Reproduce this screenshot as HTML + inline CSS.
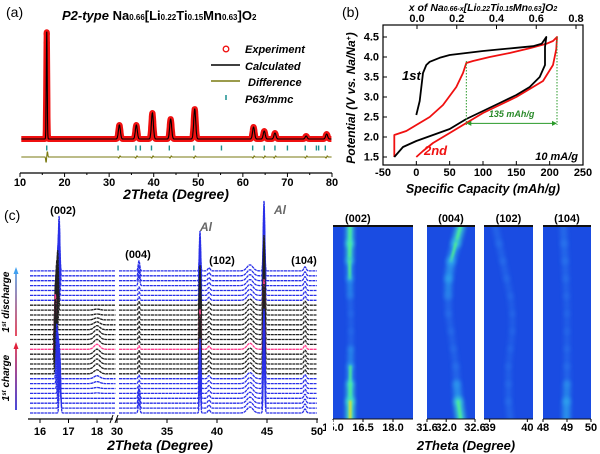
<!DOCTYPE html>
<html><head><meta charset="utf-8"><style>
body{margin:0;background:#fff;}
svg{display:block;font-family:"Liberation Sans",sans-serif;}
.t{font-weight:bold;font-size:11px;}
.ti{font-weight:bold;font-style:italic;}
</style></head><body>
<svg id="fig" width="600" height="454" viewBox="0 0 600 454" xmlns="http://www.w3.org/2000/svg">
<defs>
<filter id="blur2" filterUnits="userSpaceOnUse" x="300" y="200" width="300" height="240"><feGaussianBlur stdDeviation="2.2"/></filter>
<filter id="blur1" filterUnits="userSpaceOnUse" x="300" y="200" width="300" height="240"><feGaussianBlur stdDeviation="1"/></filter>
<linearGradient id="arrUp1" gradientUnits="userSpaceOnUse" x1="0" y1="410" x2="0" y2="342"><stop offset="0" stop-color="#1a1ad0"/><stop offset="1" stop-color="#e0203a"/></linearGradient>
<linearGradient id="arrUp2" gradientUnits="userSpaceOnUse" x1="0" y1="336" x2="0" y2="267"><stop offset="0" stop-color="#e0203a"/><stop offset="1" stop-color="#40a0f0"/></linearGradient>
</defs>
<g id="pa"></g>
<g id="pb"></g>
<g id="pc"></g>
<g id="pd"></g>
</svg>
<script>
// ---------- Panel (a) data ----------
const aPeakPos = [16.0, 32.3, 36.1, 39.7, 43.8, 49.2, 62.4, 64.8, 67.2, 74.2, 78.8];
const aPeakInt = [109, 14, 14, 26, 20, 30, 12, 8, 6, 3, 5];
const aBragg = [16, 32, 36, 37, 39.5, 43.5, 49, 55.2, 62.2, 64.8, 67.2, 70, 74, 76.5, 77, 78.5];
const aTicks = [10, 20, 30, 40, 50, 60, 70, 80];
// ---------- Panel (b) data ----------
const cap1 = [0,5,10,15,20,35,50,75,100,125,150,175,188,195,193,193,185,170,150,125,100,75,50,25,0,-20,-33];
const v1   = [2.55,2.9,3.6,3.8,3.88,3.98,4.05,4.1,4.15,4.19,4.23,4.27,4.33,4.5,4.25,3.8,3.5,3.25,3.05,2.85,2.65,2.45,2.2,2.05,1.9,1.75,1.5];
const cap2 = [-33,-33,-15,0,20,40,60,70,75,85,110,140,170,195,205,211,210,205,190,170,150,125,100,75,50,25,10,0];
const v2   = [1.5,2.05,2.15,2.3,2.5,2.8,3.25,3.6,3.85,3.9,4.0,4.1,4.22,4.33,4.4,4.5,4.2,3.8,3.4,3.2,3.0,2.8,2.6,2.35,2.1,1.85,1.65,1.5];
const bXTicks = [-50,0,50,100,150,200,250];
const bYTicks = [1.5,2.0,2.5,3.0,3.5,4.0,4.5];
const bTopTicks = [0.0,0.2,0.4,0.6,0.8];
// ---------- Panel (c) data ----------
const cPeakBase = [16.62, 32.2, 38.3, 39.2, 43.3, 44.7, 48.8, 18.0];
const cPeakH    = [55, 10, 40, 3, 6, 70, 4, 3];
const cPeakSig  = [0.025, 0.08, 0.06, 0.12, 0.3, 0.07, 0.12, 0.1];
const c002Shift = [0.08,0.07,0.06,0.05,0.03,0.01,-0.01,-0.03,-0.05,-0.06,-0.07,-0.08,-0.08,-0.08,-0.08,-0.08,-0.07,-0.06,-0.05,-0.04,-0.03,-0.01,0.0,0.01,0.02,0.03,0.04,0.05,0.05,0.05];
const cHumpH18  = [0,0,0,0,0.5,1,2,3,4,5,5,5,5,5,5,5,5,4,3,2,1,1,0,0,0,0,0,0,0,0];
const cTicks1 = [16, 17, 18];
const cTicks2 = [30, 35, 40, 45, 50];
// ---------- heatmap data (peak centers per row, top to bottom) ----------
const hm1Pos = [15.85,15.84,15.83,15.84,15.86,15.89,15.9,15.89,15.87,15.86,15.86,15.86];
const hm1Int = [0.8,0.75,0.7,0.5,0.35,0.25,0.25,0.35,0.5,0.7,0.85,1.0];
const hm2Pos = [32.3,32.2,32.1,32.05,32.04,32.05,32.1,32.15,32.2,32.22,32.25,32.3];
const hm2Int = [0.7,0.6,0.55,0.45,0.3,0.2,0.15,0.15,0.2,0.4,0.6,0.8];
const hm3Pos = [39.15,39.25,39.35,39.45,39.55,39.6,39.6,39.55,39.5,39.5,39.5,39.55];
const hm3Int = [0.25,0.2,0.2,0.15,0.1,0.08,0.08,0.08,0.1,0.15,0.2,0.25];
const hm4Pos = [48.85,48.88,48.92,48.95,48.98,49.0,49.0,49.0,49.0,49.0,48.98,48.97];
const hm4Int = [0.35,0.35,0.3,0.2,0.15,0.1,0.1,0.15,0.2,0.3,0.45,0.6];

const NS="http://www.w3.org/2000/svg";
function mk(parent,tag,attrs,text){const e=document.createElementNS(NS,tag);for(const k in attrs)e.setAttribute(k,attrs[k]);if(text!==undefined)e.textContent=text;parent.appendChild(e);return e;}
function gauss(x,c,s){return Math.exp(-((x-c)*(x-c))/(2*s*s));}

// ===== Panel a =====
const pa=document.getElementById('pa');
const xA=t=>20+(t-10)*312/70, yA=I=>139-I;
function calc(t){let s=0;for(let k=0;k<aPeakPos.length;k++)s+=aPeakInt[k]*gauss(t,aPeakPos[k],k==0?0.1:0.22);return s;}
let dCalc='';for(let t=10.3;t<=79.9;t+=0.04){dCalc+=(dCalc?'L':'M')+xA(t).toFixed(1)+','+yA(calc(t)).toFixed(1);}
let e=mk(pa,'path',{d:dCalc,fill:'none',stroke:'#f01010','stroke-width':6,'stroke-linejoin':'round'});

for(let k=0;k<aPeakPos.length;k++){const top=aPeakInt[k];for(let h=6;h<top;h+=9){const c=mk(pa,'circle',{cx:xA(aPeakPos[k]),cy:yA(h),r:2.6,fill:'none',stroke:'#f01010','stroke-width':1.1});}}
e=mk(pa,'path',{d:dCalc,fill:'none',stroke:'#000','stroke-width':1.1});

aBragg.forEach(t=>{const b=mk(pa,'line',{x1:xA(t),x2:xA(t),y1:145.5,y2:150.5,stroke:'#1a9090','stroke-width':1.4});});
let dDiff='';for(let t=10.3;t<=79.9;t+=0.1){let v=0;for(let k=0;k<aPeakPos.length;k++)v+=(k==0?6:1.2)*(gauss(t,aPeakPos[k]-0.15,0.08)-gauss(t,aPeakPos[k]+0.15,0.08));dDiff+=(dDiff?'L':'M')+xA(t).toFixed(1)+','+(157+v).toFixed(1);}
e=mk(pa,'path',{d:dDiff,fill:'none',stroke:'#7a7a10','stroke-width':1.1});

e=mk(pa,'line',{x1:20,x2:332,y1:173,y2:173,stroke:'#000','stroke-width':1.3});
for(let t=10;t<=80;t+=5){const l=mk(pa,'line',{x1:xA(t),x2:xA(t),y1:173,y2:t%10==0?177:175,stroke:'#000','stroke-width':1});}
aTicks.forEach(t=>{const l=mk(pa,'text',{x:xA(t),y:186,'text-anchor':'middle',class:'t','font-size':'10.5'},String(t));});
e=mk(pa,'text',{x:176,y:199,'text-anchor':'middle',class:'ti','font-size':'14'},'2Theta (Degree)');
e=mk(pa,'text',{x:6,y:17,'font-size':'14'},'(a)');
e=mk(pa,'text',{x:62,y:20,'font-size':'13','font-weight':'bold'});
e.innerHTML='<tspan font-style="italic">P2-type</tspan> Na<tspan font-size="8">0.66</tspan>[Li<tspan font-size="8">0.22</tspan>Ti<tspan font-size="8">0.15</tspan>Mn<tspan font-size="8">0.63</tspan>]O<tspan font-size="8">2</tspan>';
const lg=mk(pa,'g',{});
mk(lg,'circle',{cx:226,cy:49,r:2.8,fill:'none',stroke:'#f01010','stroke-width':1.3});
mk(lg,'text',{x:245,y:53,class:'ti','font-size':'11'},'Experiment');
mk(lg,'line',{x1:211,x2:240,y1:65,y2:65,stroke:'#000','stroke-width':1.5});
mk(lg,'text',{x:245,y:70,class:'ti','font-size':'11'},'Calculated');
mk(lg,'line',{x1:211,x2:240,y1:81,y2:81,stroke:'#7a7a10','stroke-width':1.5});
mk(lg,'text',{x:248,y:86,class:'ti','font-size':'11'},'Difference');
mk(lg,'line',{x1:226,x2:226,y1:95,y2:100,stroke:'#1a9090','stroke-width':1.5});
mk(lg,'text',{x:245,y:103,class:'ti','font-size':'11'},'P63/mmc');

// ===== Panel b =====
const pb=document.getElementById('pb');
const xB=c=>383+(c+50)*200/300, yB=v=>37+(4.5-v)*40, xTop=x=>417+x*198.75;
e=mk(pb,'rect',{x:383,y:25,width:200,height:140,fill:'none',stroke:'#000','stroke-width':1.2});
bXTicks.forEach(c=>{mk(pb,'line',{x1:xB(c),x2:xB(c),y1:165,y2:161,stroke:'#000'});const l=mk(pb,'text',{x:xB(c),y:176,'text-anchor':'middle',class:'t','font-size':'9.5'},String(c));});
bYTicks.forEach(v=>{mk(pb,'line',{x1:383,x2:387,y1:yB(v),y2:yB(v),stroke:'#000'});const l=mk(pb,'text',{x:379,y:yB(v)+3.5,'text-anchor':'end',class:'t','font-size':'9.5'},v.toFixed(1));});
bTopTicks.forEach(x=>{mk(pb,'line',{x1:xTop(x),x2:xTop(x),y1:25,y2:29,stroke:'#000'});const l=mk(pb,'text',{x:xTop(x),y:22,'text-anchor':'middle',class:'t','font-size':'9.5'},x.toFixed(1));});
function pathB(cs,vs){return cs.map((c,i)=>(i?'L':'M')+xB(c).toFixed(1)+','+yB(vs[i]).toFixed(1)).join('');}
e=mk(pb,'path',{d:pathB(cap2,v2),fill:'none',stroke:'#f01010','stroke-width':1.8,'stroke-linejoin':'round'});
e=mk(pb,'path',{d:pathB(cap1,v1),fill:'none',stroke:'#000','stroke-width':1.8,'stroke-linejoin':'round'});
const gb=mk(pb,'g',{stroke:'#2a9a2a','stroke-width':1,'stroke-dasharray':'1.5,1.5',fill:'none'});
mk(gb,'line',{x1:xB(75),x2:xB(75),y1:yB(3.9),y2:yB(2.3)});
mk(gb,'line',{x1:xB(211),x2:xB(211),y1:yB(4.5),y2:yB(2.3)});
mk(pb,'line',{x1:xB(77),x2:xB(209),y1:yB(2.34),y2:yB(2.34),stroke:'#2a9a2a','stroke-width':1});
mk(pb,'path',{d:`M${xB(75)},${yB(2.34)}l5,-2.5v5z M${xB(211)},${yB(2.34)}l-5,-2.5v5z`,fill:'#2a9a2a'});
e=mk(pb,'text',{x:xB(143),y:yB(2.5),'text-anchor':'middle',class:'ti','font-size':'9',fill:'#2a8a2a'},'135 mAh/g');
e=mk(pb,'text',{x:402,y:80,class:'ti','font-size':'13'},'1st');
e=mk(pb,'text',{x:424,y:155,class:'ti','font-size':'13',fill:'#f01010'},'2nd');
e=mk(pb,'text',{x:578,y:160,'text-anchor':'end',class:'ti','font-size':'11'},'10 mA/g');
e=mk(pb,'text',{x:483,y:193,'text-anchor':'middle',class:'ti','font-size':'12.5'},'Specific Capacity (mAh/g)');
e=mk(pb,'text',{x:0,y:0,'text-anchor':'middle',class:'ti','font-size':'12',transform:'translate(355,98) rotate(-90)'});
e.innerHTML='Potential (V vs. Na/Na<tspan font-size="7" dy="-4">+</tspan><tspan dy="4">)</tspan>';
e=mk(pb,'text',{x:483,y:11,'text-anchor':'middle',class:'ti','font-size':'10.5'});
e.innerHTML='x of Na<tspan font-size="7">0.66-x</tspan>[Li<tspan font-size="7">0.22</tspan>Ti<tspan font-size="7">0.15</tspan>Mn<tspan font-size="7">0.63</tspan>]O<tspan font-size="7">2</tspan>';
e=mk(pb,'text',{x:342,y:17,'font-size':'14'},'(b)');

// ===== Panel c stacked =====
const pc=document.getElementById('pc');
const xC=t=>t<25?40+(t-16)*28.5:117+(t-30)*10;
const nTr=c002Shift.length;
function colorOf(i){if(i==13)return '#ff3c8c';if(i<=7||i>=23)return '#2a30e8';return '#222';}
function intensity(t,i){let s=0;for(let k=0;k<cPeakBase.length;k++){let c=cPeakBase[k],h=cPeakH[k];if(k==0)c+=c002Shift[i];if(k==7)h=cHumpH18[i];if(k==1)h=cPeakH[k]*(i<4||i>25?1:0.35);s+=h*gauss(t,c,cPeakSig[k]);}return s;}
for(let i=nTr-1;i>=0;i--){const base=413-i*4.9;let d='';
 for(let t=15.65;t<=18.65;t+=0.005)d+=(d?'L':'M')+xC(t).toFixed(1)+','+(base-intensity(t,i)).toFixed(1);
 d+='M'+xC(30.2).toFixed(1)+','+base;
 for(let t=30.2;t<=50;t+=0.02)d+='L'+xC(t).toFixed(1)+','+(base-intensity(t,i)).toFixed(1);
 const p=mk(pc,'path',{d:d,fill:'none',stroke:colorOf(i),'stroke-width':1.3,'stroke-dasharray':'3,0.6'});
 }
e=mk(pc,'line',{x1:28,x2:113,y1:419,y2:419,stroke:'#000','stroke-width':1.3});
e=mk(pc,'line',{x1:117,x2:318,y1:419,y2:419,stroke:'#000','stroke-width':1.3});
mk(pc,'path',{d:'M110,423l3,-8M115,423l3,-8',stroke:'#000','stroke-width':1});
cTicks1.concat(cTicks2).forEach(t=>{mk(pc,'line',{x1:xC(t),x2:xC(t),y1:419,y2:423,stroke:'#000'});const l=mk(pc,'text',{x:xC(t),y:435,'text-anchor':'middle',class:'t','font-size':'10.5'},String(t));});
e=mk(pc,'text',{x:160,y:450,'text-anchor':'middle',class:'ti','font-size':'14'},'2Theta (Degree)');
e=mk(pc,'text',{x:4,y:220,'font-size':'14'},'(c)');
[['(002)',63,214],['(004)',138,258],['(102)',222,264],['(104)',304,264]].forEach(a=>{const l=mk(pc,'text',{x:a[1],y:a[2],'text-anchor':'middle',class:'t','font-size':'12'},a[0]);});
[['Al',200,231],['Al',274,214]].forEach(a=>{const l=mk(pc,'text',{x:a[1],y:a[2],class:'ti','font-size':'12',fill:'#666'},a[0]);});
e=mk(pc,'rect',{x:15.2,y:349,width:1.6,height:61,fill:'url(#arrUp1)'});
mk(pc,'path',{d:'M16,342l-2.5,7h5z',fill:'#e0203a'});
e=mk(pc,'rect',{x:15.2,y:274,width:1.6,height:62,fill:'url(#arrUp2)'});
mk(pc,'path',{d:'M16,267l-2.5,7h5z',fill:'#40a0f0'});
e=mk(pc,'text',{x:0,y:0,'text-anchor':'middle',class:'ti','font-size':'10',transform:'translate(9,378) rotate(-90)'});
e.innerHTML='1<tspan font-size="6" dy="-3">st</tspan><tspan dy="3"> charge</tspan>';
e=mk(pc,'text',{x:0,y:0,'text-anchor':'middle',class:'ti','font-size':'10',transform:'translate(9,302) rotate(-90)'});
e.innerHTML='1<tspan font-size="6" dy="-3">st</tspan><tspan dy="3"> discharge</tspan>';

// ===== Heatmaps =====
const pd=document.getElementById('pd');
const hms=[
 {x0:333,x1:413,t0:15.0,t1:19.0,pos:hm1Pos,int:hm1Int,ticks:[[15.0,'15.0'],[16.5,'16.5'],[18.0,'18.0']],lab:'(002)',w:3},
 {x0:427,x1:475,t0:31.6,t1:32.6,pos:hm2Pos,int:hm2Int,ticks:[[31.6,'31.6'],[32.0,'32.0'],[32.6,'32.6']],lab:'(004)',w:5},
 {x0:484,x1:533,t0:38.85,t1:40.15,pos:hm3Pos,int:hm3Int,ticks:[[39,'39'],[40,'40']],lab:'(102)',w:5},
 {x0:543,x1:591,t0:48,t1:50,pos:hm4Pos,int:hm4Int,ticks:[[48,'48'],[49,'49'],[50,'50']],lab:'(104)',w:5}];
const yTop=226,yBot=419;
hms.forEach((h,hi)=>{const g=mk(pd,'g',{});
 const xs=t=>h.x0+(t-h.t0)/(h.t1-h.t0)*(h.x1-h.x0);
 const cp='cp'+hi;const cpe=mk(g,'clipPath',{id:cp});mk(cpe,'rect',{x:h.x0,y:yTop,width:h.x1-h.x0,height:yBot-yTop});
 mk(g,'rect',{x:h.x0,y:yTop,width:h.x1-h.x0,height:yBot-yTop,fill:'#1a4ce2'});
 const gg=mk(g,'g',{'clip-path':`url(#${cp})`});
 const n=h.pos.length,dy=(yBot-yTop)/(n-1);
 for(let k=0;k<n-1;k++){const ya=yTop+k*dy,yb=ya+dy,xa=xs(h.pos[k]),xb=xs(h.pos[k+1]);const I=(h.int[k]+h.int[k+1])/2;
  const col=I>0.6?'#40e0d0':I>0.35?'#30b0f0':'#2e80f0';
  mk(gg,'line',{x1:xa,y1:ya,x2:xb,y2:yb,stroke:col,'stroke-width':h.w+I*6,'stroke-linecap':'round',filter:'url(#blur2)',opacity:0.3+I*0.7});
  if(I>0.55)mk(gg,'line',{x1:xa,y1:ya,x2:xb,y2:yb,stroke:I>0.9?'#e8e020':'#50f090','stroke-width':2.5,'stroke-linecap':'round',filter:'url(#blur1)'});}
 mk(g,'line',{x1:h.x0,x2:h.x1,y1:yTop,y2:yTop,stroke:'#111','stroke-width':2});
 mk(g,'line',{x1:h.x0,x2:h.x1,y1:yBot,y2:yBot,stroke:'#111','stroke-width':1});
 h.ticks.forEach(tk=>{mk(g,'line',{x1:xs(tk[0]),x2:xs(tk[0]),y1:yBot,y2:yBot+3,stroke:'#000'});const l=mk(g,'text',{x:xs(tk[0]),y:431,'text-anchor':'middle',class:'t','font-size':'9.5'},tk[1]);});
 const l=mk(g,'text',{x:h.x0+(hi==0?12:(h.x1-h.x0)/2),y:222,'text-anchor':hi==0?'start':'middle',class:'t','font-size':'9'},h.lab);
});
mk(pd,'rect',{x:326,y:420,width:7,height:14,fill:'#fff'});
e=mk(pd,'text',{x:466,y:450,'text-anchor':'middle',class:'ti','font-size':'13'},'2Theta (Degree)');
</script>
</body></html>
